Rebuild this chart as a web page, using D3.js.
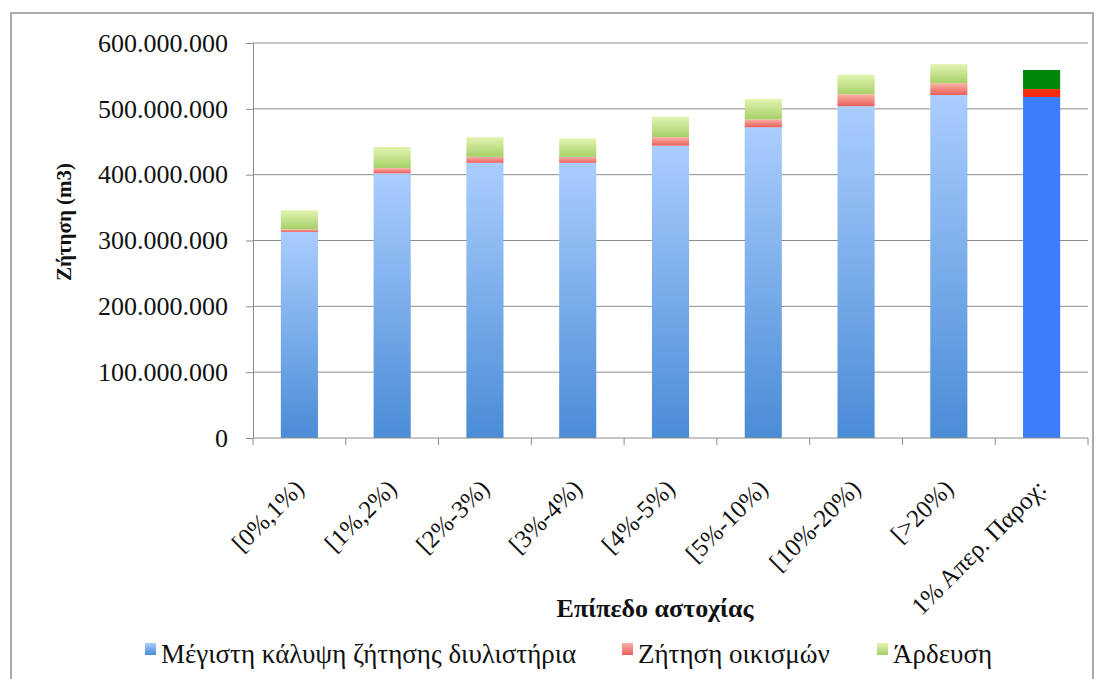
<!DOCTYPE html>
<html>
<head>
<meta charset="utf-8">
<script src="https://cdn.jsdelivr.net/npm/d3@7"></script>
<style>
  html, body { margin: 0; padding: 0; background: #fff; }
  svg { display: block; }
</style>
</head>
<body>
<svg id="chart" width="1104" height="679"></svg>
<script>
// Water demand per failure level (m3)
const categories = ["[0%,1%)", "[1%,2%)", "[2%-3%)", "[3%-4%)", "[4%-5%)", "[5%-10%)", "[10%-20%)", "[>20%)", "1% Απερ. Παροχ:"];
const refinery   = [313e6, 402e6, 418e6, 418e6, 444e6, 472e6, 504e6, 521e6, 518e6];
const settlements = [4e6, 8e6, 9e6, 9e6, 13e6, 12e6, 18e6, 18e6, 12e6];
const irrigation = [29e6, 32e6, 30e6, 28e6, 31e6, 31e6, 30e6, 29e6, 29e6];
const seriesNames = ["Μέγιστη κάλυψη ζήτησης διυλιστήρια", "Ζήτηση οικισμών", "Άρδευση"];
const yTicks = [0, 100e6, 200e6, 300e6, 400e6, 500e6, 600e6];

const FONT = "'Liberation Serif', LiberationSerif, 'DejaVu Serif', DejaVuSerif, Tinos, 'Times New Roman', Times, serif";
const svg = d3.select("#chart").attr("font-family", FONT);
const W = 1104, H = 679;
const m = { left: 253, right: 1088, top: 43, bottom: 438 };

// outer frame
svg.append("rect").attr("x", 11).attr("y", 13).attr("width", W - 22).attr("height", H - 10)
  .attr("fill", "#fff").attr("stroke", "#aaa").attr("stroke-width", 2);

// gradients: light at top, darker at bottom
const defs = svg.append("defs");
const grads = [
  { id: "gBlue", top: "#aacdfe", bottom: "#4a8cd6" },
  { id: "gRed", top: "#fbb0a8", bottom: "#e8605a" },
  { id: "gGreen", top: "#e2f4b2", bottom: "#a6d068" }
];
grads.forEach(g => {
  const lg = defs.append("linearGradient").attr("id", g.id).attr("x1", 0).attr("y1", 0).attr("x2", 0).attr("y2", 1);
  lg.append("stop").attr("offset", "0%").attr("stop-color", g.top);
  lg.append("stop").attr("offset", "100%").attr("stop-color", g.bottom);
});
const gradFills = ["url(#gBlue)", "url(#gRed)", "url(#gGreen)"];
const solidFills = ["#3c7dfc", "#f52a10", "#00880a"];

const x = d3.scaleBand().domain(categories).range([m.left, m.right]).paddingInner(0.6).paddingOuter(0.3);
const xb = d3.scaleBand().domain(categories).range([m.left, m.right]);
const y = d3.scaleLinear().domain([0, 600e6]).range([m.bottom, m.top]);

// gridlines
svg.append("g").selectAll("line").data(yTicks.slice(1)).join("line")
  .attr("x1", m.left).attr("x2", m.right)
  .attr("y1", d => y(d)).attr("y2", d => y(d))
  .attr("stroke", "#8c8c8c").attr("stroke-width", 1);

// y axis
const fmt = d => d3.format(",")(d).replace(/,/g, ".");
const yAxis = svg.append("g").attr("transform", `translate(${m.left},0)`)
  .call(d3.axisLeft(y).tickValues(yTicks).tickFormat(fmt).tickSize(7).tickPadding(18));
yAxis.attr("font-family", FONT);
yAxis.select(".domain").attr("stroke", "#8c8c8c");
yAxis.selectAll(".tick line").attr("stroke", "#8c8c8c");
yAxis.selectAll(".tick text").attr("font-size", 26).attr("fill", "#111");

// stacked bars
const rows = categories.map((c, i) => ({ cat: c, s0: refinery[i], s1: settlements[i], s2: irrigation[i] }));
const stack = d3.stack().keys(["s0", "s1", "s2"])(rows);
stack.forEach((layer, li) => {
  svg.append("g").selectAll("rect").data(layer).join("rect")
    .attr("x", d => x(d.data.cat))
    .attr("width", x.bandwidth())
    .attr("y", d => y(d[1]))
    .attr("height", d => y(d[0]) - y(d[1]))
    .attr("fill", (d, i) => i === categories.length - 1 ? solidFills[li] : gradFills[li]);
});

// x axis
const xAxisG = svg.append("g").attr("transform", `translate(0,${m.bottom})`);
xAxisG.append("line").attr("x1", m.left).attr("x2", m.right).attr("stroke", "#8c8c8c");
const bounds = categories.map(c => xb(c)).concat([m.right]);
xAxisG.selectAll("line.tk").data(bounds).join("line").attr("class", "tk")
  .attr("x1", d => d).attr("x2", d => d).attr("y1", 0).attr("y2", 7).attr("stroke", "#8c8c8c");
xAxisG.selectAll("text").data(categories).join("text")
  .attr("transform", d => `translate(${xb(d) + xb.bandwidth() / 2 + 6},${52}) rotate(-45)`)
  .attr("text-anchor", "end")
  .attr("font-size", 25)
  .attr("fill", "#111")
  .text(d => d);

// axis titles
svg.append("text").attr("x", 655).attr("y", 617).attr("text-anchor", "middle").attr("fill", "#111")
  .attr("font-size", 26).attr("font-weight", "bold").text("Επίπεδο αστοχίας");
svg.append("text").attr("transform", "translate(71,222) rotate(-90)").attr("text-anchor", "middle").attr("fill", "#111")
  .attr("font-size", 21).attr("font-weight", "bold").text("Ζήτηση (m3)");

// legend
const legendX = [145, 622, 877];
const legend = svg.append("g");
seriesNames.forEach((n, i) => {
  legend.append("rect").attr("x", legendX[i]).attr("y", 643).attr("width", 11).attr("height", 12)
    .attr("fill", gradFills[i]);
  legend.append("text").attr("x", legendX[i] + 16).attr("y", 663).attr("font-size", 27).attr("fill", "#111").text(n);
});
</script>
</body>
</html>
